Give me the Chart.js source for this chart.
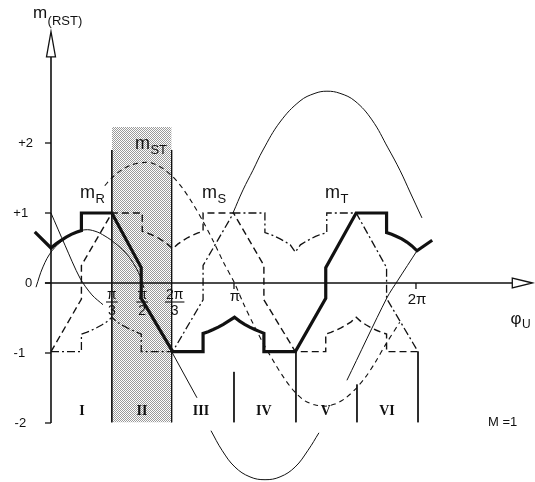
<!DOCTYPE html>
<html>
<head>
<meta charset="utf-8">
<script src="https://cdn.jsdelivr.net/npm/chart.js@4.4.1/dist/chart.umd.min.js"></script>
<style>
  html, body { margin: 0; padding: 0; background: #fff; }
  #wrap { width: 535px; height: 482px; }
</style>
</head>
<body>
<div id="wrap"><canvas id="c" width="535" height="482"></canvas></div>
<script>
// Modulation functions over one period; x = phase angle φU in degrees, y = modulation value.
const mR = [[-16,0.73],[0,0.5],[5,0.56],[10,0.61],[15,0.655],[20,0.695],[25,0.725],[30,0.75],
  [30,1],[60,1],[89,0.22],[89,-0.22],[120,-0.98],[150,-0.98],
  [150,-0.72],[155,-0.695],[160,-0.665],[165,-0.63],[170,-0.59],[175,-0.545],[181,-0.49],
  [186,-0.545],[191,-0.59],[196,-0.63],[201,-0.665],[206,-0.695],[210,-0.72],
  [210,-0.98],[241,-0.98],[271,-0.22],[271,0.22],[301,1],[331,1],
  [331,0.72],[336,0.695],[341,0.665],[346,0.63],[351,0.585],[356,0.53],[361,0.46],[376,0.61]];

const mS = [[0,-0.98],[30,-0.23],[30,0.25],[60,1],[90,1],
  [90,0.74],[95,0.715],[100,0.685],[105,0.65],[110,0.605],[115,0.555],[120,0.49],
  [125,0.555],[130,0.605],[135,0.65],[140,0.685],[145,0.715],[150,0.74],
  [150,1],[180,1],[210,0.25],[210,-0.24],[241,-0.98],[271,-0.98],
  [271,-0.73],[276,-0.705],[281,-0.675],[286,-0.64],[291,-0.6],[296,-0.555],[301,-0.49],
  [306,-0.555],[311,-0.6],[316,-0.64],[321,-0.675],[326,-0.705],[331,-0.73],
  [331,-0.98],[362,-0.98]];

const mT = [[0,-0.98],[30,-0.98],
  [30,-0.73],[35,-0.705],[40,-0.675],[45,-0.64],[50,-0.6],[55,-0.555],[60,-0.49],
  [65,-0.555],[70,-0.6],[75,-0.64],[80,-0.675],[85,-0.705],[89,-0.73],
  [89,-0.98],[120,-0.98],[150,-0.24],[150,0.25],[180,1],[211,1],
  [211,0.72],[216,0.695],[221,0.665],[226,0.63],[231,0.59],[236,0.545],[241,0.44],
  [246,0.545],[251,0.59],[256,0.63],[261,0.665],[266,0.695],[272,0.72],
  [272,1],[301,1],[331,0.22],[331,-0.22],[362,-0.98]];

// line-to-line function m_ST
const mST = [[53,1.39],[60,1.5],[70,1.62],[80,1.69],[90,1.72],[98,1.72],[110,1.64],[120,1.52],
  [130,1.35],[140,1.13],[150,0.88],[160,0.6],[170,0.3],[181,0],[190,-0.3],[200,-0.6],
  [210,-0.88],[220,-1.13],[230,-1.36],[240,-1.55],[250,-1.68],[260,-1.74],[270,-1.76],
  [280,-1.73],[290,-1.65],[300,-1.52],[310,-1.35],[320,-1.13],[330,-0.88],[344,-0.56]];

// thin construction curves
const upperArc = [[179.5,1.0],[189.4,1.33],[199.2,1.61],[209.1,1.9],[225.9,2.3],[245.6,2.6],
  [260.4,2.71],[272.2,2.74],[285,2.71],[299.8,2.6],[316.6,2.33],[332.4,1.93],[344.2,1.61],
  [354.1,1.3],[365.9,0.93]];
const lowerArc = [[157.8,-2.11],[168.7,-2.39],[181.5,-2.63],[196.3,-2.77],[211.1,-2.81],
  [225.9,-2.77],[240.7,-2.63],[253.5,-2.39],[264.3,-2.14]];
const leftArc = [[-14.8,-0.06],[-7.9,0.23],[1,0.46],[11.8,0.61],[21.7,0.71],[33.5,0.76],
  [43.4,0.74],[53.3,0.67],[63.1,0.57],[73,0.44],[80.9,0.29],[87.8,0.1],[91.7,-0.07]];
const leftLine = [[0,1],[13.8,0.54],[28.6,0.07],[40.4,-0.17],[51.3,-0.31]];
const lineIII = [[119,-0.98],[144,-1.64]];
const rightLine = [[291.9,-1.39],[331.4,-0.21],[342.2,0.04],[361,0.46]];

// sector boundaries: [angle, upper end]
const sectorBounds = [[60,1.9],[119,1.9],[180.5,-1.27],[241.6,-0.98],[301.8,-1.45],[362,-0.98]];
const sectorNames = ['I','II','III','IV','V','VI'];
const sectorCenters = [30.6,89.8,148,210,271,331.4];
const shadedSector = [60,119];
const yTickValues = [2,1,0,-1,-2];
const yTickLabels = ['+2','+1','0','-1','-2'];

const pts = a => a.map(p => ({x: p[0], y: p[1]}));

// fine dot raster for the highlighted sector
function stipple() {
  const c = document.createElement('canvas');
  c.width = 2; c.height = 2;
  const g = c.getContext('2d');
  g.fillStyle = '#fff'; g.fillRect(0, 0, 2, 2);
  g.fillStyle = '#9a9a9a'; g.fillRect(0, 0, 1, 1); g.fillRect(1, 1, 1, 1);
  return g.createPattern(c, 'repeat');
}

function line(data, width, dash, tension) {
  return {
    data: pts(data), borderColor: '#111', borderWidth: width, borderDash: dash || [],
    pointRadius: 0, fill: false, tension: tension || 0,
    borderJoinStyle: 'miter', borderCapStyle: 'butt'
  };
}

const datasets = [
  line(mR, 3.2),
  line(mS, 1.4, [7, 4]),
  line(mT, 1.3, [8, 3, 2, 3]),
  line(mST, 1.1, [5, 4], 0.3),
  line(upperArc, 1, null, 0.4),
  line(lowerArc, 1, null, 0.4),
  line(leftArc, 1, null, 0.4),
  line(leftLine, 1, null, 0.3),
  line(lineIII, 1),
  line(rightLine, 1, null, 0.3)
];
sectorBounds.forEach(b => datasets.push(line([[b[0], b[1]], [b[0], -1.99]], 1)));
datasets.push({
  data: pts([[shadedSector[0], 2.23], [shadedSector[1], 2.23]]),
  borderWidth: 0, pointRadius: 0, backgroundColor: stipple(), fill: {value: -1.99}
});

const SANS = '"Liberation Sans", Arial, sans-serif';
const SERIF = '"Liberation Serif", "Times New Roman", serif';

const decor = {
  id: 'decor',
  afterDatasetsDraw(chart) {
    const ctx = chart.ctx, xs = chart.scales.x, ys = chart.scales.y;
    const X = v => xs.getPixelForValue(v), Y = v => ys.getPixelForValue(v);
    ctx.save();
    ctx.strokeStyle = '#111'; ctx.fillStyle = '#111';

    // axes
    const x0 = X(0), y0 = Y(0);
    ctx.lineWidth = 1.6;
    ctx.beginPath();
    ctx.moveTo(x0, Y(-2)); ctx.lineTo(x0, Y(3.23));
    ctx.moveTo(X(-6), y0); ctx.lineTo(X(455), y0);
    ctx.stroke();
    ctx.lineWidth = 1.3;
    ctx.fillStyle = '#fff';
    ctx.beginPath();
    ctx.moveTo(x0, Y(3.59)); ctx.lineTo(x0 - 4.5, Y(3.23)); ctx.lineTo(x0 + 4.5, Y(3.23)); ctx.closePath();
    ctx.fill(); ctx.stroke();
    ctx.beginPath();
    ctx.moveTo(X(475), y0); ctx.lineTo(X(455), y0 - 5); ctx.lineTo(X(455), y0 + 5); ctx.closePath();
    ctx.fill(); ctx.stroke();
    ctx.fillStyle = '#111';

    // y ticks and labels
    ctx.lineWidth = 1.3;
    const labelRight = [-17.8, -22.5, -18.5, -25.5, -24.5];
    yTickValues.forEach((v, i) => {
      ctx.beginPath(); ctx.moveTo(x0 - 6, Y(v)); ctx.lineTo(x0, Y(v)); ctx.stroke();
      ctx.font = '13px ' + SANS; ctx.textAlign = 'right'; ctx.textBaseline = 'middle';
      ctx.fillText(yTickLabels[i], X(labelRight[i]), Y(v));
    });

    // x ticks at π and 2π
    [180.5, 360].forEach(d => {
      ctx.beginPath(); ctx.moveTo(X(d), y0); ctx.lineTo(X(d), y0 + 6); ctx.stroke();
    });

    // fraction tick labels
    const frac = (num, den, d) => {
      const cx = X(d);
      ctx.font = '14px ' + SANS; ctx.textAlign = 'center'; ctx.textBaseline = 'alphabetic';
      ctx.fillText(num, cx, y0 + 16);
      ctx.fillText(den, cx, y0 + 32);
      const w = ctx.measureText(num).width;
      ctx.lineWidth = 1.1;
      ctx.beginPath(); ctx.moveTo(cx - w / 2 - 1, y0 + 19); ctx.lineTo(cx + w / 2 + 1, y0 + 19); ctx.stroke();
    };
    frac('π', '3', 60); frac('π', '2', 90); frac('2π', '3', 122);
    ctx.font = '15px ' + SANS; ctx.textAlign = 'center'; ctx.textBaseline = 'alphabetic';
    ctx.fillText('π', X(181.5), y0 + 18);
    ctx.fillText('2π', X(361), y0 + 21);

    // sector numerals
    ctx.font = 'bold 14px ' + SERIF; ctx.textAlign = 'center';
    sectorNames.forEach((s, i) => ctx.fillText(s, X(sectorCenters[i]), Y(-1.886)));

    // names with subscripts
    const named = (main, sub, d, v, big, small, drop) => {
      ctx.textAlign = 'left'; ctx.textBaseline = 'alphabetic';
      ctx.font = big + 'px ' + SANS;
      const x = X(d), y = Y(v);
      ctx.fillText(main, x, y);
      const w = ctx.measureText(main).width;
      ctx.font = small + 'px ' + SANS;
      ctx.fillText(sub, x + w + 0.5, y + drop);
    };
    named('m', 'R', 28.6, 1.22, 18, 13, 5);
    named('m', 'S', 148.9, 1.21, 18, 13, 5);
    named('m', 'T', 270.2, 1.21, 18, 13, 5);
    named('m', 'ST', 82.8, 1.92, 18, 13, 5);
    named('m', '(RST)', -17.8, 3.79, 17, 13, 7);
    named('φ', 'U', 453.2, -0.58, 17, 12, 4);

    ctx.font = '13px ' + SANS; ctx.textAlign = 'left';
    ctx.fillText('M =1', X(431), Y(-2.04));
    ctx.restore();
  }
};

new Chart(document.getElementById('c'), {
  type: 'line',
  data: { datasets },
  options: {
    responsive: false, animation: false, devicePixelRatio: 1,
    layout: { padding: 0 },
    scales: {
      x: { type: 'linear', min: -50.3, max: 477.4, display: false },
      y: { type: 'linear', min: -2.843, max: 4.043, display: false }
    },
    plugins: { legend: { display: false }, tooltip: { enabled: false }, filler: { drawTime: 'beforeDatasetsDraw' } }
  },
  plugins: [decor]
});
</script>
</body>
</html>
